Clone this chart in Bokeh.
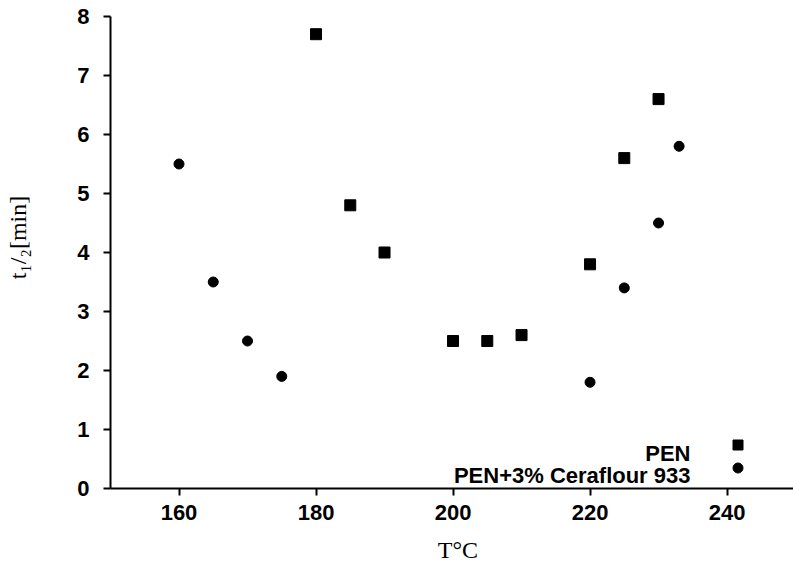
from bokeh.plotting import figure
from bokeh.models import Range1d, FixedTicker, Label, Legend, LegendItem
from bokeh.core.properties import value
from bokeh.embed import file_html
from bokeh.resources import INLINE

# Data
pen_T = [180, 185, 190, 200, 205, 210, 220, 225, 230]
pen_t = [7.7, 4.8, 4.0, 2.5, 2.5, 2.6, 3.8, 5.6, 6.6]
cer_T = [160, 165, 170, 175, 220, 225, 230, 233]
cer_t = [5.5, 3.5, 2.5, 1.9, 1.8, 3.4, 4.5, 5.8]
x_ticks = [160, 180, 200, 220, 240]
y_ticks = [0, 1, 2, 3, 4, 5, 6, 7, 8]
series_names = ["PEN", "PEN+3% Ceraflour 933"]
x_title = "\u00a0\u00a0T\u00b0C"
y_title = "\u00a0\u00a0\u00a0\u00a0\u00a0t\u2081/\u2082[min]"

p = figure(width=793, height=578, output_backend="svg", toolbar_location=None,
           x_range=Range1d(150, 249.7), y_range=Range1d(0, 8),
           min_border_left=110, min_border_right=0, min_border_top=16, min_border_bottom=90)
p.outline_line_color = None
p.grid.visible = False
p.background_fill_color = "white"
p.border_fill_color = "white"

for ax, ticks in ((p.xaxis[0], x_ticks), (p.yaxis[0], y_ticks)):
    ax.ticker = FixedTicker(ticks=ticks)
    ax.axis_line_width = 2
    ax.axis_line_color = "black"
    ax.major_tick_line_width = 2
    ax.major_tick_line_color = "black"
    ax.major_tick_out = 7
    ax.major_tick_in = 0
    ax.minor_tick_line_color = None
    ax.major_label_text_font = "Liberation Sans"
    ax.major_label_text_font_size = "22px"
    ax.major_label_text_font_style = "bold"
    ax.major_label_text_color = "black"
    ax.axis_label_text_font = "Liberation Serif"
    ax.axis_label_text_font_style = "normal"
    ax.axis_label_text_color = "black"
p.xaxis.major_label_standoff = 9
p.yaxis.major_label_standoff = 14
p.xaxis.axis_label = x_title
p.xaxis.axis_label_text_font_size = "24px"
p.xaxis.axis_label_standoff = 14
p.yaxis.axis_label = y_title
p.yaxis.axis_label_text_font_size = "24px"
p.yaxis.axis_label_standoff = 43

r1 = p.scatter(pen_T, pen_t, marker="square", size=11, color="black")
r2 = p.scatter(cer_T, cer_t, marker="circle", size=10, color="black")

# legend markers (library legends with empty labels), texts right-aligned to their left
for r, loc in ((r1, (615, 31)), (r2, (615, 8))):
    lg = Legend(items=[LegendItem(label=value(""), renderers=[r])], location=loc,
                glyph_width=25, glyph_height=25, label_width=0, label_standoff=0,
                label_height=25, label_text_font_size="1px", padding=0, margin=0,
                border_line_color=None, background_fill_alpha=0)
    p.add_layout(lg, "center")

for txt, yy in zip(series_names, (35, 13)):
    p.add_layout(Label(x=580, y=yy, x_units="screen", y_units="screen", text=txt,
                       text_align="right", text_baseline="alphabetic",
                       text_font="Liberation Sans", text_font_size="22px",
                       text_font_style="bold", text_color="black"))

open("out.html", "w").write(file_html(p, INLINE))
